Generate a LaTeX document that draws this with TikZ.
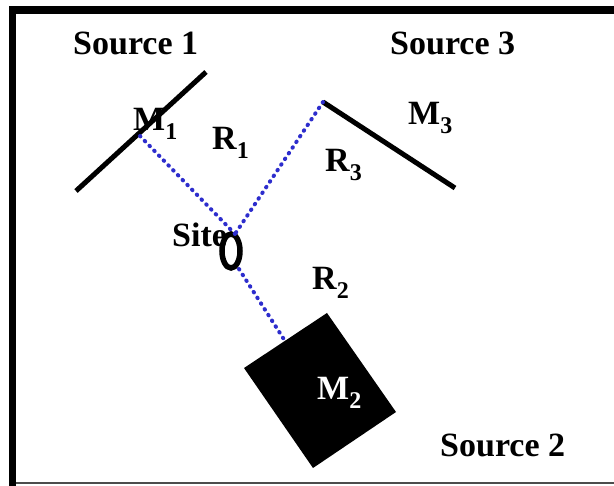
\documentclass[tikz,border=0pt]{standalone}
\usepackage{fontspec}
\setmainfont{Liberation Serif}
\usetikzlibrary{shapes.geometric}
\newcommand\sbx[1]{\raisebox{-0.24em}{\fontsize{24}{26}\selectfont #1}}
\definecolor{dotblue}{RGB}{45,45,205}
\tikzset{
  lbl/.style={anchor=base west, inner sep=0pt, font=\fontsize{34}{40}\selectfont\bfseries},
  mirror/.style={line width=5pt},
  ray/.style={dotblue, line width=4pt, line cap=round, dash pattern=on 0.6pt off 6.2pt},
}
\begin{document}
\begin{tikzpicture}[x=1pt,y=-1pt]
\useasboundingbox (0,0) rectangle (614,486);
\fill[white] (0,0) rectangle (614,486);
% frame
\fill[black] (9,6) rectangle (614,14);
\fill[black] (9,6) rectangle (16,486);
\draw[line width=2pt, black!70] (16,483) -- (614,483);

% mirrors
\coordinate (m1a) at (76,191);
\coordinate (m1b) at (206,72);
\coordinate (m3a) at (323,102);
\coordinate (m3b) at (455,188);
\draw[mirror] (m1a) -- (m1b);
\draw[mirror] (m3a) -- (m3b);

% box M2
\coordinate (bt) at (327,313);
\coordinate (br) at (396,412);
\coordinate (bb) at (313,468);
\coordinate (bl) at (244,368);
\fill[black] (bt) -- (br) -- (bb) -- (bl) -- cycle;
\coordinate (bhit) at (285,341);

% site
\node[ellipse, draw, line width=5.5pt, minimum width=18pt, minimum height=34pt, inner sep=0pt] (site) at (231,251) {};
\coordinate (stop) at (235,234);
\coordinate (sbot) at (239,269);
\coordinate (m1p) at (140,136);

% rays
\draw[ray] (m1p) -- (stop);
\draw[ray] (m3a) -- (stop);
\draw[ray] (sbot) -- (bhit);

% labels
\node[lbl] (s1) at (73,55) {Source 1};
\node[lbl] (s3) at (390,55) {Source 3};
\node[lbl] (s2) at (440,457) {Source 2};
\node[lbl] (lm1) at (133,131) {M\sbx{1}};
\node[lbl] (lr1) at (212,150) {R\sbx{1}};
\node[lbl] (lm3) at (408,125) {M\sbx{3}};
\node[lbl] (lr3) at (325,172) {R\sbx{3}};
\node[lbl] (lr2) at (312,290) {R\sbx{2}};
\node[lbl] (lsite) at (172,247) {Site};
\node[lbl, text=white] (lm2) at (317,400) {M\sbx{2}};
\end{tikzpicture}
\end{document}
